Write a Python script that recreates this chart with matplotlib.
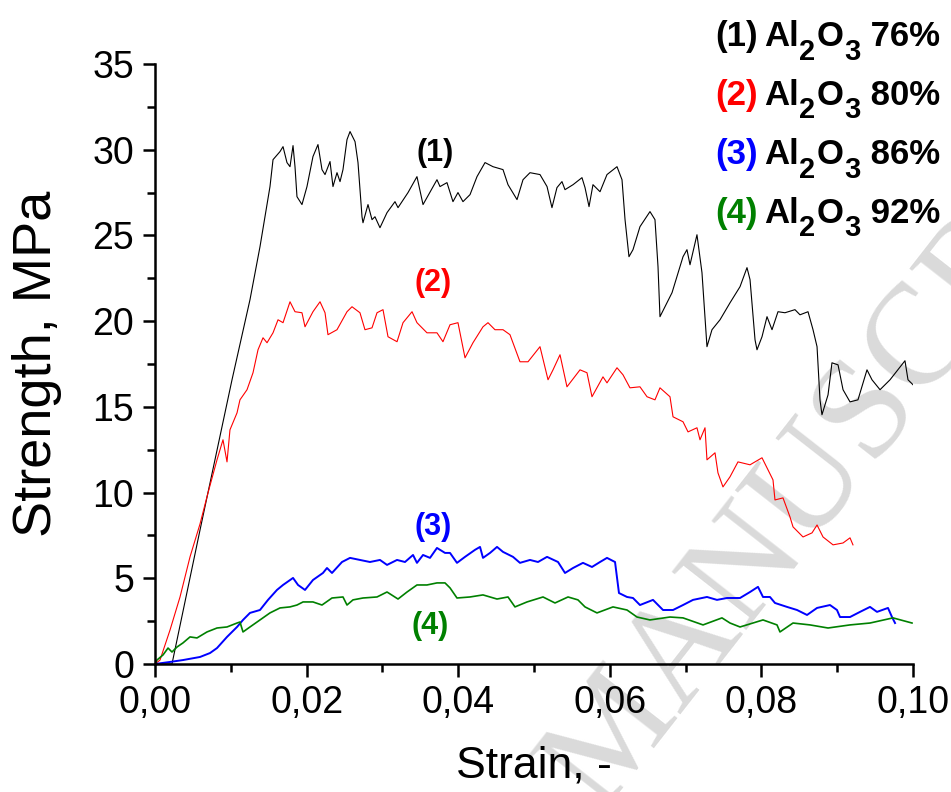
import matplotlib
matplotlib.use("Agg")
import matplotlib.pyplot as plt
from matplotlib.ticker import MultipleLocator, FuncFormatter

plt.rcParams["font.family"] = ["Liberation Sans", "DejaVu Sans"]

# (1) Al2O3 76%
strain_1 = [0, 0.00224, 0.00594, 0.01016, 0.01253, 0.01385, 0.01517, 0.01557, 0.01649, 0.01689,
            0.01741, 0.01781, 0.01821, 0.01847, 0.01873, 0.01939, 0.02005, 0.02084, 0.02150, 0.02203,
            0.02243, 0.02309, 0.02348, 0.02401, 0.02441, 0.02480, 0.02533, 0.02573, 0.02639, 0.02678,
            0.02731, 0.02744, 0.02810, 0.02863, 0.02902, 0.02968, 0.03061, 0.03166, 0.03206, 0.03338,
            0.03456, 0.03536, 0.03720, 0.03760, 0.03852, 0.03931, 0.03997, 0.04063, 0.04156, 0.04248,
            0.04354, 0.04459, 0.04591, 0.04657, 0.04776, 0.04855, 0.04947, 0.05079, 0.05172, 0.05237,
            0.05303, 0.05369, 0.05409, 0.05515, 0.05633, 0.05673, 0.05726, 0.05778, 0.05871, 0.05963,
            0.06095, 0.06161, 0.06201, 0.06253, 0.06306, 0.06398, 0.06530, 0.06596, 0.06636, 0.06662,
            0.06821, 0.06966, 0.07018, 0.07058, 0.07150, 0.07216, 0.07282, 0.07348, 0.07454, 0.07586,
            0.07718, 0.07810, 0.07850, 0.07916, 0.07942, 0.08008, 0.08074, 0.08140, 0.08219, 0.08311,
            0.08443, 0.08509, 0.08615, 0.08681, 0.08734, 0.08773, 0.08799, 0.08879, 0.08931, 0.09011,
            0.09077, 0.09169, 0.09274, 0.09393, 0.09459, 0.09565, 0.09697, 0.09894, 0.09934, 0.10000]
stress_1 = [0, 0, 7.82, 16.58, 21.25, 24.34, 27.85, 29.42, 29.89, 30.18,
            29.25, 29.01, 30.24, 29.01, 27.26, 26.80, 27.85, 29.60, 30.30, 28.84,
            28.55, 29.31, 27.85, 28.66, 28.14, 28.84, 30.59, 31.06, 30.47, 29.25,
            26.09, 25.74, 26.80, 25.92, 26.09, 25.45, 26.33, 26.97, 26.62, 27.50,
            28.43, 26.80, 28.25, 27.85, 28.08, 26.97, 27.50, 26.97, 27.38, 28.43,
            29.25, 29.01, 28.84, 27.96, 27.09, 28.25, 28.66, 28.55, 27.85, 26.62,
            27.79, 28.14, 27.67, 27.96, 28.37, 27.79, 26.68, 27.96, 27.55, 28.55,
            29.01, 28.25, 25.92, 23.76, 24.17, 25.51, 26.39, 25.92, 23.18, 20.26,
            21.66, 23.76, 24.17, 23.29, 25.04, 22.83, 18.51, 19.50, 20.08, 21.07,
            22.01, 23.12, 22.42, 18.91, 18.33, 19.09, 20.26, 19.50, 20.55, 20.49,
            20.67, 20.37, 20.55, 19.50, 18.51, 15.41, 14.54, 15.70, 17.57, 17.45,
            16.00, 15.29, 15.41, 17.16, 16.58, 16.00, 16.58, 17.69, 16.58, 16.29]

# (2) Al2O3 80%
strain_2 = [0, 0.00066, 0.00198, 0.00330, 0.00462, 0.00594, 0.00699, 0.00818, 0.00897, 0.00950,
            0.00989, 0.01082, 0.01121, 0.01214, 0.01293, 0.01359, 0.01425, 0.01478, 0.01557, 0.01623,
            0.01689, 0.01781, 0.01847, 0.01939, 0.01979, 0.02084, 0.02177, 0.02243, 0.02282, 0.02401,
            0.02533, 0.02599, 0.02704, 0.02770, 0.02863, 0.02929, 0.03008, 0.03074, 0.03193, 0.03272,
            0.03391, 0.03456, 0.03588, 0.03720, 0.03799, 0.03892, 0.03997, 0.04090, 0.04195, 0.04327,
            0.04393, 0.04485, 0.04591, 0.04683, 0.04815, 0.04921, 0.05079, 0.05185, 0.05251, 0.05343,
            0.05435, 0.05607, 0.05699, 0.05765, 0.05910, 0.05963, 0.06095, 0.06174, 0.06266, 0.06398,
            0.06491, 0.06596, 0.06662, 0.06794, 0.06834, 0.06966, 0.07032, 0.07150, 0.07190, 0.07256,
            0.07282, 0.07388, 0.07427, 0.07493, 0.07586, 0.07691, 0.07850, 0.08008, 0.08153, 0.08179,
            0.08285, 0.08377, 0.08417, 0.08549, 0.08668, 0.08734, 0.08813, 0.08945, 0.09077, 0.09169,
            0.09208]
stress_2 = [0, 0.23, 1.98, 3.91, 6.25, 8.17, 9.98, 11.91, 13.08, 11.79,
            13.66, 14.65, 15.41, 16.00, 16.99, 18.33, 19.03, 18.74, 19.32, 20.08,
            19.91, 21.13, 20.55, 20.49, 19.67, 20.55, 21.13, 20.49, 19.21, 19.50,
            20.55, 20.84, 20.49, 19.50, 19.61, 20.49, 20.67, 19.09, 18.80, 19.91,
            20.55, 19.91, 19.32, 19.32, 18.80, 19.79, 19.91, 17.86, 18.74, 19.67,
            19.91, 19.50, 19.50, 19.21, 17.63, 17.63, 18.51, 16.58, 17.16, 18.04,
            16.17, 17.16, 16.99, 15.59, 16.75, 16.40, 17.28, 16.87, 16.11, 16.17,
            15.59, 15.41, 16.11, 15.59, 14.42, 14.13, 13.54, 13.78, 13.08, 13.78,
            11.91, 12.32, 11.15, 10.33, 10.92, 11.79, 11.62, 12.03, 10.74, 9.57,
            9.69, 8.58, 8.00, 7.41, 7.65, 8.11, 7.41, 6.95, 7.06, 7.36,
            6.95]

# (3) Al2O3 86%
strain_3 = [0, 0.00198, 0.00369, 0.00594, 0.00726, 0.00818, 0.00950, 0.01082, 0.01161, 0.01253,
            0.01385, 0.01491, 0.01609, 0.01689, 0.01821, 0.01887, 0.01979, 0.02084, 0.02216, 0.02269,
            0.02335, 0.02467, 0.02573, 0.02704, 0.02836, 0.02968, 0.03061, 0.03193, 0.03298, 0.03404,
            0.03456, 0.03536, 0.03628, 0.03720, 0.03826, 0.03892, 0.03984, 0.04090, 0.04222, 0.04288,
            0.04327, 0.04420, 0.04512, 0.04591, 0.04723, 0.04815, 0.04947, 0.05053, 0.05172, 0.05317,
            0.05409, 0.05515, 0.05646, 0.05765, 0.05871, 0.05963, 0.06069, 0.06121, 0.06227, 0.06306,
            0.06398, 0.06570, 0.06702, 0.06834, 0.06966, 0.07098, 0.07282, 0.07414, 0.07546, 0.07718,
            0.07850, 0.07955, 0.08021, 0.08113, 0.08179, 0.08338, 0.08470, 0.08602, 0.08734, 0.08905,
            0.08997, 0.09037, 0.09169, 0.09301, 0.09433, 0.09525, 0.09670, 0.09723, 0.09763]
stress_3 = [0, 0.12, 0.23, 0.41, 0.64, 0.93, 1.58, 2.16, 2.57, 2.98,
            3.15, 3.74, 4.32, 4.61, 5.02, 4.61, 4.32, 4.90, 5.31, 5.60,
            5.31, 5.95, 6.19, 6.07, 5.95, 6.07, 5.78, 6.07, 5.95, 6.36,
            5.90, 6.36, 6.19, 6.77, 6.48, 6.48, 5.90, 6.25, 6.66, 6.83,
            6.19, 6.48, 6.83, 6.54, 6.25, 5.90, 6.07, 5.95, 6.25, 5.95,
            5.31, 5.60, 5.90, 5.66, 5.95, 6.19, 5.95, 4.14, 3.91, 3.85,
            3.44, 3.74, 3.15, 3.15, 3.44, 3.74, 3.91, 3.74, 3.85, 3.85,
            4.20, 4.50, 3.91, 3.91, 3.56, 3.33, 3.15, 2.86, 3.27, 3.44,
            3.15, 2.74, 2.74, 3.04, 3.33, 3.04, 3.27, 2.74, 2.39]

# (4) Al2O3 92%
strain_4 = [0, 0.00026, 0.00106, 0.00172, 0.00224, 0.00290, 0.00369, 0.00462, 0.00554, 0.00686,
            0.00818, 0.00950, 0.01082, 0.01121, 0.01161, 0.01253, 0.01385, 0.01517, 0.01649, 0.01781,
            0.01873, 0.01953, 0.02084, 0.02203, 0.02335, 0.02480, 0.02533, 0.02612, 0.02744, 0.02929,
            0.03061, 0.03206, 0.03325, 0.03456, 0.03588, 0.03720, 0.03826, 0.03892, 0.03984, 0.04156,
            0.04327, 0.04512, 0.04657, 0.04749, 0.04908, 0.05119, 0.05277, 0.05449, 0.05580, 0.05673,
            0.05831, 0.06042, 0.06227, 0.06359, 0.06530, 0.06794, 0.06966, 0.07230, 0.07480, 0.07586,
            0.07718, 0.08021, 0.08206, 0.08245, 0.08417, 0.08641, 0.08879, 0.09169, 0.09433, 0.09736,
            0.09987]
stress_4 = [0, 0.23, 0.53, 0.93, 0.70, 0.99, 1.23, 1.58, 1.52, 1.87,
            2.10, 2.16, 2.39, 2.45, 1.87, 2.16, 2.57, 2.98, 3.27, 3.33,
            3.44, 3.62, 3.62, 3.44, 3.85, 3.91, 3.44, 3.74, 3.85, 3.91,
            4.20, 3.79, 4.20, 4.61, 4.61, 4.73, 4.73, 4.44, 3.85, 3.91,
            4.03, 3.79, 3.91, 3.33, 3.62, 3.91, 3.56, 3.91, 3.74, 3.33,
            2.98, 3.33, 3.15, 2.74, 2.57, 2.74, 2.69, 2.28, 2.69, 2.39,
            2.16, 2.57, 2.28, 1.87, 2.39, 2.28, 2.10, 2.28, 2.39, 2.69,
            2.39]

labels = ["(1)", "(2)", "(3)", "(4)"]
contents = ["76%", "80%", "86%", "92%"]
colors = ["black", "red", "blue", "green"]

fig = plt.figure(figsize=(9.51, 7.92), dpi=100)
ax = fig.add_axes([155 / 951, 1 - 664 / 792, 758 / 951, 600 / 792])
ax.patch.set_alpha(0)

ax.plot(strain_1, stress_1, color="black", lw=0.8)
ax.plot(strain_2, stress_2, color="red", lw=0.8)
ax.plot(strain_3, stress_3, color="blue", lw=1.4)
ax.plot(strain_4, stress_4, color="green", lw=1.2)

ax.set_xlim(0, 0.10)
ax.set_ylim(0, 35)
ax.xaxis.set_major_locator(MultipleLocator(0.02))
ax.xaxis.set_minor_locator(MultipleLocator(0.01))
ax.yaxis.set_major_locator(MultipleLocator(5))
ax.yaxis.set_minor_locator(MultipleLocator(2.5))
ax.xaxis.set_major_formatter(FuncFormatter(lambda v, p: f"{v:.2f}".replace(".", ",")))
ax.yaxis.set_major_formatter(FuncFormatter(lambda v, p: f"{v:.0f}"))

for side in ["top", "right"]:
    ax.spines[side].set_visible(False)
for side in ["left", "bottom"]:
    ax.spines[side].set_linewidth(1.8)
ax.tick_params(which="major", direction="out", length=9, width=1.8, labelsize=27, pad=6)
ax.tick_params(which="minor", direction="out", length=6, width=1.8)

ax.set_xlabel("Strain, -", fontsize=32, labelpad=18)
ax.set_ylabel("Strength, MPa", fontsize=39, labelpad=22)

# curve labels
curve_pos = [(0.0370, 29.8), (0.0367, 22.2), (0.0367, 8.0), (0.0363, 2.2)]
for (x, y), lab, c in zip(curve_pos, labels, colors):
    ax.text(x, y, lab, color=c, fontsize=22, fontweight="bold", ha="center", va="center")

# legend text block, built piece by piece so the subscripts sit low like the original
fs_main, fs_sub, drop = 25, 21, 9
for i, (lab, txt, c) in enumerate(zip(labels, contents, colors)):
    yb = 1 - (46 + 59 * i) / 792
    fig.text(715 / 951, yb, lab, color=c, fontsize=fs_main, fontweight="bold", va="baseline")
    prev = fig.text(764 / 951, yb, "Al", color="black", fontsize=fs_main,
                    fontweight="bold", va="baseline")
    for piece, sub in [("2", True), ("O", False), ("3", True), (" " + txt, False)]:
        prev = ax.annotate(piece, xy=(1, 0), xycoords=prev,
                           xytext=(0.5, -drop if sub else drop), textcoords="offset points",
                           fontsize=fs_sub if sub else fs_main, fontweight="bold",
                           color="black", va="bottom", ha="left", annotation_clip=False)
        # after a subscript the next piece is lifted back up; after normal text no shift
    # nothing else

# faint watermark
fig.text(600 / 951, 1 - 812 / 792, "MANUSCRIPT", color="#dadada", fontsize=104,
         family="Liberation Serif", rotation=52, rotation_mode="anchor",
         ha="left", va="baseline", zorder=-5)

fig.savefig("out.png", dpi=100)
